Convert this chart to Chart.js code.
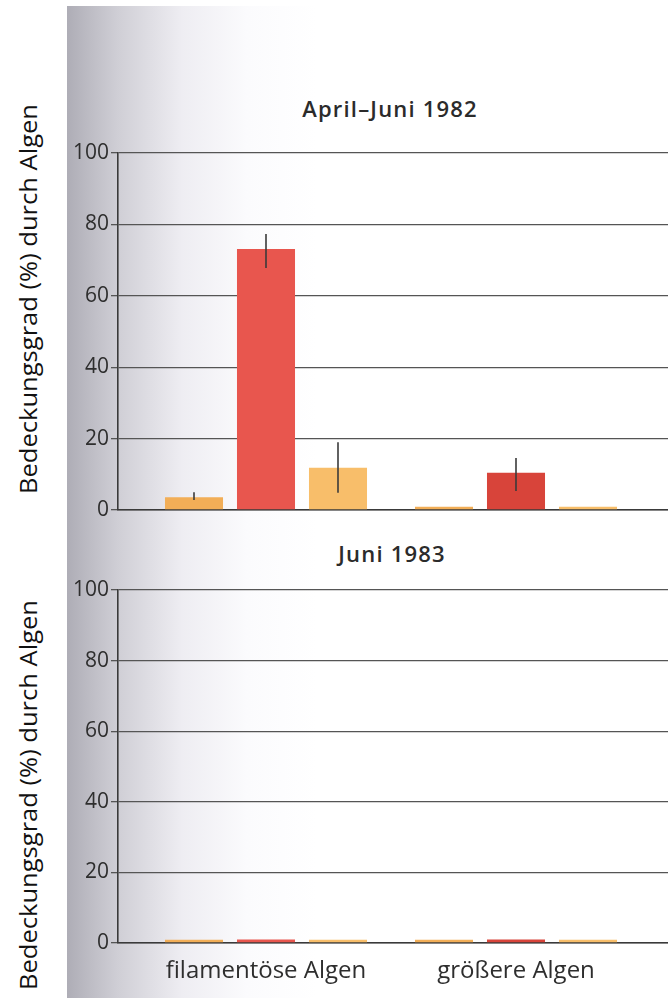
<!DOCTYPE html>
<html>
<head>
<meta charset="utf-8">
<script src="https://cdn.jsdelivr.net/npm/chart.js@4"></script>
<style>
  body { margin: 0; width: 668px; height: 998px; background: #fff; position: relative; overflow: hidden; font-family: "Open Sans", sans-serif; }
  #page { position: absolute; left: 67px; top: 6px; right: 0; bottom: 0;
          background: linear-gradient(to right, #aeadb6 0px, #cfced5 50px, #eeedf2 115px, #fbfbfd 180px, #ffffff 250px); }
  .ytitle { position: absolute; left: 28px; width: 0; height: 0; }
  .ytitle span { position: absolute; transform: translate(-50%, -50%) rotate(-90deg) scaleX(1.11); white-space: nowrap;
                 font-size: 23px; color: #111; }
  .ptitle { position: absolute; transform: translate(-50%, -50%); white-space: nowrap;
            font-size: 22px; font-weight: 600; color: #2b2b2b; letter-spacing: 1.2px; }
  .box { position: absolute; left: 60px; width: 608px; }
</style>
</head>
<body>
<div id="page"></div>
<div class="ytitle" style="top:299px"><span>Bedeckungsgrad (%) durch Algen</span></div>
<div class="ytitle" style="top:795px"><span>Bedeckungsgrad (%) durch Algen</span></div>
<div class="ptitle" style="left:390px; top:108px">April–Juni 1982</div>
<div class="ptitle" style="left:392px; top:553px">Juni 1983</div>
<div class="box" style="top:138px; height:387px"><canvas id="chart1"></canvas></div>
<div class="box" style="top:575px; height:423px"><canvas id="chart2"></canvas></div>
<script>
// categories and tick labels
const groups = ['filamentöse Algen', 'größere Algen'];
const yTicks = [0, 20, 40, 60, 80, 100];

// April–Juni 1982: three bars per group
const a82Left = [3.6, 0.9];
const a82Mid = [73.1, 10.4];
const a82Right = [11.8, 0.9];
// error bars (low / high), null = none
const a82MidLow = [67.8, 5.3];
const a82MidHigh = [77.3, 14.6];
const a82LeftLow = [2.8, null];
const a82LeftHigh = [5.0, null];
const a82RightLow = [4.8, null];
const a82RightHigh = [19.0, null];

// Juni 1983
const j83Left = [0.9, 0.9];
const j83Mid = [1.0, 1.0];
const j83Right = [0.9, 0.9];

const colLeft = '#f2ae57';
const colMid = ['#e8564e', '#d8443a'];
const colRight = '#f8be6a';

function toPoints(values) {
    return values.map((v, i) => ({ x: i + 1, y: v }));
}

// draws vertical error lines on top of the bars
const errorBars = {
    id: 'errorBars',
    afterDatasetsDraw(chart, args, opts) {
        const ctx = chart.ctx;
        const y = chart.scales.y;
        ctx.save();
        ctx.strokeStyle = '#3a3a3a';
        ctx.lineWidth = 1.6;
        (opts.sets || []).forEach((set, di) => {
            if (!set) return;
            const meta = chart.getDatasetMeta(di);
            set.low.forEach((lo, j) => {
                const hi = set.high[j];
                if (lo == null || hi == null) return;
                const bx = meta.data[j].x;
                ctx.beginPath();
                ctx.moveTo(bx, y.getPixelForValue(lo));
                ctx.lineTo(bx, y.getPixelForValue(hi));
                ctx.stroke();
            });
        });
        ctx.restore();
    }
};

function makeChart(id, left, mid, right, errSets, showLabels) {
    const ctx = document.getElementById(id).getContext('2d');
    const common = { barPercentage: 0.806, categoryPercentage: 0.864, borderWidth: 0 };
    return new Chart(ctx, {
        type: 'bar',
        data: {
            datasets: [
                Object.assign({ label: 'links', data: toPoints(left), backgroundColor: colLeft }, common),
                Object.assign({ label: 'mitte', data: toPoints(mid), backgroundColor: colMid }, common),
                Object.assign({ label: 'rechts', data: toPoints(right), backgroundColor: colRight }, common)
            ]
        },
        options: {
            responsive: true,
            maintainAspectRatio: false,
            animation: false,
            layout: { padding: { top: 15, bottom: showLabels ? 5 : 15, left: 0, right: 0 } },
            plugins: {
                legend: { display: false },
                tooltip: { enabled: false },
                errorBars: { sets: errSets }
            },
            scales: {
                x: {
                    type: 'linear',
                    offset: false,
                    bounds: 'data',
                    min: 0.408,
                    max: 2.608,
                    afterBuildTicks(scale) {
                        scale.ticks = groups.map((g, i) => ({ value: i + 1 }));
                    },
                    afterFit(scale) {
                        scale.height = showLabels ? 50 : 0;
                    },
                    grid: { display: false },
                    border: { display: true, color: '#3a3a3a', width: 1.6 },
                    ticks: {
                        display: showLabels,
                        padding: 6,
                        color: '#2e2e2e',
                        font: { family: 'Open Sans', size: 24 },
                        callback: v => groups[v - 1]
                    }
                },
                y: {
                    min: 0,
                    max: 100,
                    afterBuildTicks(scale) {
                        scale.ticks = yTicks.map(v => ({ value: v }));
                    },
                    afterFit(scale) {
                        scale.width = 58;
                    },
                    grid: { color: '#555', lineWidth: 1.3, tickLength: 7, drawTicks: true },
                    border: { display: true, color: '#3a3a3a', width: 1.6 },
                    ticks: {
                        padding: 2,
                        color: '#2e2e2e',
                        font: { family: 'Open Sans', size: 21 }
                    }
                }
            }
        },
        plugins: [errorBars]
    });
}

makeChart('chart1', a82Left, a82Mid, a82Right, [
    { low: a82LeftLow, high: a82LeftHigh },
    { low: a82MidLow, high: a82MidHigh },
    { low: a82RightLow, high: a82RightHigh }
], false);
makeChart('chart2', j83Left, j83Mid, j83Right, [], true);
</script>
</body>
</html>
